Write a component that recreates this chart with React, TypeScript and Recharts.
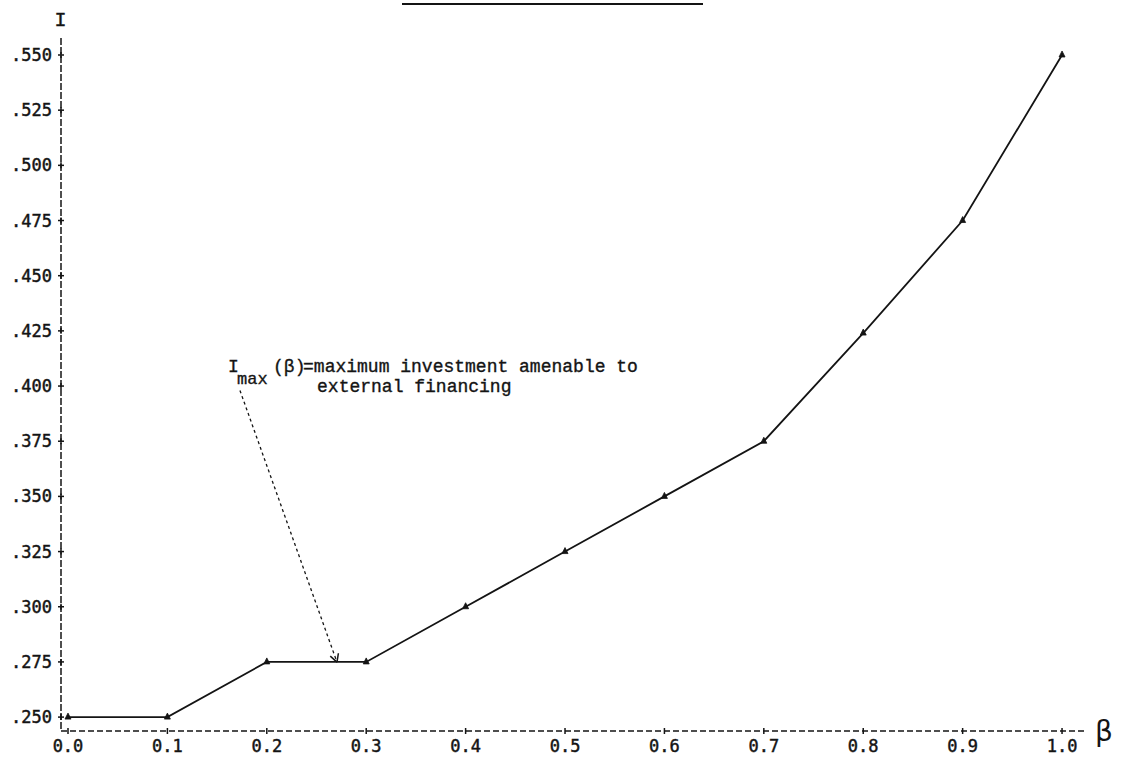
import React from 'react';
import { LineChart, Line, XAxis, YAxis, ReferenceLine, ReferenceDot } from 'recharts';

// ---- data ----
const betaValues: number[] = [0.0, 0.1, 0.2, 0.3, 0.4, 0.5, 0.6, 0.7, 0.8, 0.9, 1.0];
const investmentValues: number[] = [0.25, 0.25, 0.275, 0.275, 0.3, 0.325, 0.35, 0.375, 0.424, 0.475, 0.55];
const xTicks: number[] = [0.0, 0.1, 0.2, 0.3, 0.4, 0.5, 0.6, 0.7, 0.8, 0.9, 1.0];
const yTicks: number[] = [0.25, 0.275, 0.3, 0.325, 0.35, 0.375, 0.4, 0.425, 0.45, 0.475, 0.5, 0.525, 0.55];
const annotationAnchor = { beta: 0.161, value: 0.4063 };
const arrowStart = { beta: 0.173, value: 0.398 };
const arrowEnd = { beta: 0.2706, value: 0.2749 };

const data = betaValues.map((b, i) => ({ beta: b, inv: investmentValues[i] }));

const INK = '#141414';
const MONO = '"DejaVu Sans Mono", "Liberation Mono", monospace';
const TYPE = '"Liberation Mono", "DejaVu Sans Mono", monospace';

const XTick = (props: any) => {
  const { x, y, payload } = props;
  return (
    <g>
      <line x1={x} x2={x} y1={y - 3} y2={y + 3} stroke={INK} strokeWidth={1.5} />
      <text x={x} y={y + 15} textAnchor="middle" dominantBaseline="central" fontFamily={MONO} fontSize={17} fill={INK} stroke={INK} strokeWidth={0.45}>
        {Number(payload.value).toFixed(1)}
      </text>
    </g>
  );
};

const YTick = (props: any) => {
  const { x, y, payload } = props;
  return (
    <g>
      <line x1={x - 3} x2={x + 3} y1={y} y2={y} stroke={INK} strokeWidth={1.5} />
      <line x1={x} x2={x} y1={y - 3} y2={y + 3} stroke={INK} strokeWidth={1.5} />
      <text x={x - 9} y={y} textAnchor="end" dominantBaseline="central" fontFamily={MONO} fontSize={17} fill={INK} stroke={INK} strokeWidth={0.45}>
        {Number(payload.value).toFixed(3).replace(/^0/, '')}
      </text>
    </g>
  );
};

const TriDot = (props: any) => {
  const { cx, cy } = props;
  if (cx == null || cy == null) return null;
  return <path d={`M${cx - 3},${cy + 2} L${cx},${cy - 4} L${cx + 3},${cy + 2} Z`} fill={INK} stroke={INK} strokeWidth={0.8} />;
};

const AnnotationText = (props: any) => {
  const { cx, cy } = props;
  if (cx == null || cy == null) return null;
  return (
    <g fontFamily={TYPE} fill={INK} stroke={INK} strokeWidth={0.35}>
      <text x={cx} y={cy} fontSize={18}>I</text>
      <text x={cx + 9} y={cy + 12} fontSize={17}>max</text>
      <text x={cx + 45} y={cy} fontSize={18}>(β)</text>
      <text x={cx + 75} y={cy} fontSize={18}>=maximum investment amenable to</text>
      <text x={cx + 89} y={cy + 20} fontSize={18}>external financing</text>
    </g>
  );
};

const ArrowShape = (props: any) => {
  const { x1, y1, x2, y2 } = props;
  if ([x1, y1, x2, y2].some((v) => v == null || isNaN(v))) return null;
  const ang = Math.atan2(y2 - y1, x2 - x1);
  const len = 9;
  const a1 = ang + Math.PI - 0.5;
  const a2 = ang + Math.PI + 0.5;
  return (
    <g>
      <line x1={x1} y1={y1} x2={x2} y2={y2} stroke={INK} strokeWidth={1.3} strokeDasharray="3 3" />
      <line x1={x2} y1={y2} x2={x2 + len * Math.cos(a1)} y2={y2 + len * Math.sin(a1)} stroke={INK} strokeWidth={1.5} />
      <line x1={x2} y1={y2} x2={x2 + len * Math.cos(a2)} y2={y2 + len * Math.sin(a2)} stroke={INK} strokeWidth={1.5} />
    </g>
  );
};

export default function App() {
  return (
    <div style={{ position: 'absolute', left: 0, top: 0, width: 1122, height: 766, background: '#fff' }}>
      <div style={{ position: 'absolute', left: 402, top: 3, width: 301, height: 2, background: INK }} />
      <LineChart
        width={1122}
        height={766}
        data={data}
        margin={{ top: 38, right: 37, bottom: 34, left: 60 }}
      >
        <XAxis
          dataKey="beta"
          type="number"
          domain={[-0.00704, 1.0231]}
          allowDataOverflow
          ticks={xTicks}
          interval={0}
          height={1}
          tickSize={0}
          tickMargin={0}
          tickLine={false}
          tick={<XTick />}
          axisLine={{ stroke: INK, strokeWidth: 1.5, strokeDasharray: '6 3' }}
          label={{ value: 'β', position: 'right', offset: 10, fontSize: 28, fill: INK, fontFamily: '"DejaVu Sans", sans-serif' }}
        />
        <YAxis
          type="number"
          domain={[0.2437, 0.5577]}
          allowDataOverflow
          ticks={yTicks}
          interval={0}
          width={1}
          tickSize={0}
          tickMargin={0}
          tickLine={false}
          tick={<YTick />}
          axisLine={{ stroke: INK, strokeWidth: 1.5, strokeDasharray: '7 2' }}
          label={{ value: 'I', position: 'top', offset: 12, fontSize: 20, fill: INK, stroke: INK, strokeWidth: 0.4, fontFamily: TYPE }}
        />
        <ReferenceLine
          segment={[
            { x: arrowStart.beta, y: arrowStart.value },
            { x: arrowEnd.beta, y: arrowEnd.value },
          ]}
          stroke={INK}
          strokeDasharray="3 3"
          shape={<ArrowShape />}
          ifOverflow="visible"
        />
        <ReferenceDot
          x={annotationAnchor.beta}
          y={annotationAnchor.value}
          r={0}
          shape={<AnnotationText />}
          ifOverflow="visible"
        />
        <Line
          type="linear"
          dataKey="inv"
          stroke={INK}
          strokeWidth={1.8}
          dot={<TriDot />}
          activeDot={false}
          isAnimationActive={false}
        />
      </LineChart>
    </div>
  );
}
